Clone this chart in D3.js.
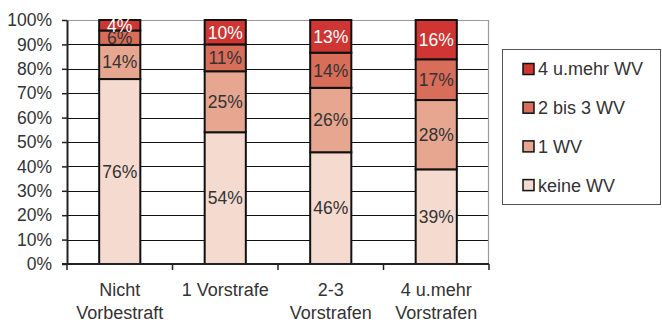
<!DOCTYPE html>
<html>
<head>
<meta charset="utf-8">
<script src="https://cdn.jsdelivr.net/npm/d3@7"></script>
<style>
  html, body { margin: 0; padding: 0; background: #fff; }
  svg { display: block; font-family: "Liberation Sans", Arial, sans-serif; }
</style>
</head>
<body>
<svg id="chart" width="662" height="322"></svg>
<script>
// Categories (prior convictions) and stacked shares of re-offence counts
const categories = [["Nicht", "Vorbestraft"], ["1 Vorstrafe"], ["2-3", "Vorstrafen"], ["4 u.mehr", "Vorstrafen"]];
const seriesNames = ["keine WV", "1 WV", "2 bis 3 WV", "4 u.mehr WV"];
const keineWV   = [75.8, 54.0, 45.8, 38.8];
const einWV     = [14.0, 25.0, 26.4, 28.4];
const zweiBis3  = [5.9, 11.0, 14.4, 16.7];
const vierUMehr = [4.3, 10.0, 13.4, 16.1];
const yTicks = [0, 10, 20, 30, 40, 50, 60, 70, 80, 90, 100];
const colors = ["#f5dacf", "#e7a68f", "#d86e5a", "#cf3532"];
const labelColors = ["#333", "#333", "#333", "#fff"];

const seriesValues = [keineWV, einWV, zweiBis3, vierUMehr];
const rows = categories.map((c, i) => {
  const r = { idx: i };
  seriesNames.forEach((s, k) => r[s] = seriesValues[k][i]);
  return r;
});

const svg = d3.select("#chart");
const margin = { left: 67, top: 20, right: 173, bottom: 58 };
const W = 662, H = 322;
const x = d3.scaleBand().domain(d3.range(categories.length))
  .range([margin.left, W - margin.right]).paddingInner(0.61).paddingOuter(0.305);
const xOuter = d3.scaleBand().domain(d3.range(categories.length))
  .range([margin.left, W - margin.right]);
const y = d3.scaleLinear().domain([0, 100]).range([H - margin.bottom, margin.top]);

// Gridlines
svg.append("g").selectAll("line").data(yTicks.filter(t => t > 0 && t < 100)).join("line")
  .attr("x1", margin.left).attr("x2", W - margin.right)
  .attr("y1", d => Math.round(y(d)) + 0.5).attr("y2", d => Math.round(y(d)) + 0.5)
  .attr("stroke", "#111").attr("stroke-width", 1);
// Plot area top/right border
svg.append("path")
  .attr("d", `M${margin.left},${y(100) + 0.5}H${W - margin.right - 0.5}V${y(0)}`)
  .attr("fill", "none").attr("stroke", "#999").attr("stroke-width", 1.2);

// Stacked bars
const stack = d3.stack().keys(seriesNames)(rows);
const layers = svg.append("g").selectAll("g").data(stack).join("g")
  .attr("fill", (d, k) => colors[k]);
layers.selectAll("rect").data(d => d).join("rect")
  .attr("x", d => x(d.data.idx))
  .attr("width", x.bandwidth())
  .attr("y", d => y(d[1]))
  .attr("height", d => y(d[0]) - y(d[1]))
  .attr("stroke", "#111").attr("stroke-width", 2);

// Segment labels
const fmt = v => d3.format(".0f")(v) + "%";
layers.each(function (layer, k) {
  d3.select(this).selectAll("text").data(layer).join("text")
    .attr("x", d => x(d.data.idx) + x.bandwidth() / 2)
    .attr("y", d => (y(d[0]) + y(d[1])) / 2)
    .attr("dy", "0.36em")
    .attr("text-anchor", "middle")
    .attr("font-size", 17.5)
    .attr("fill", labelColors[k])
    .text(d => fmt(d[1] - d[0]));
});

// Y axis
const yAxis = svg.append("g").attr("transform", `translate(${margin.left},0)`)
  .call(d3.axisLeft(y).tickValues(yTicks).tickFormat(d => d + "%").tickSizeInner(5).tickSizeOuter(0));
yAxis.select(".domain").attr("stroke", "#222").attr("stroke-width", 2);
yAxis.selectAll(".tick line").attr("stroke", "#222").attr("stroke-width", 1.5);
yAxis.selectAll(".tick text").attr("font-size", 17.5).attr("fill", "#333").attr("x", -15)
  .attr("font-family", "Liberation Sans, Arial, sans-serif");

// X axis
const xAxisG = svg.append("g").attr("transform", `translate(0,${y(0)})`);
xAxisG.append("line").attr("x1", margin.left - 5).attr("x2", W - margin.right)
  .attr("stroke", "#222").attr("stroke-width", 2);
const bounds = d3.range(categories.length + 1).map(i =>
  i < categories.length ? xOuter(i) : xOuter(i - 1) + xOuter.bandwidth());
xAxisG.selectAll("line.tk").data(bounds).join("line").attr("class", "tk")
  .attr("x1", d => d).attr("x2", d => d).attr("y1", 0).attr("y2", 6)
  .attr("stroke", "#222").attr("stroke-width", 1.5);
const catText = xAxisG.selectAll("text.cat").data(categories).join("text").attr("class", "cat")
  .attr("text-anchor", "middle").attr("font-size", 18).attr("fill", "#333")
  .attr("x", (d, i) => xOuter(i) + xOuter.bandwidth() / 2);
catText.selectAll("tspan").data(d => d).join("tspan")
  .attr("x", function () { return d3.select(this.parentNode).attr("x"); })
  .attr("y", (d, j) => 32 + j * 23)
  .text(d => d);

// Legend
const legend = svg.append("g");
legend.append("rect").attr("x", 502.5).attr("y", 49.5).attr("width", 158).attr("height", 155)
  .attr("fill", "#fff").attr("stroke", "#555").attr("stroke-width", 1);
const order = [3, 2, 1, 0];
const items = legend.selectAll("g.item").data(order).join("g").attr("class", "item")
  .attr("transform", (k, i) => `translate(523,${69 + i * 38.7})`);
items.append("rect").attr("x", 0).attr("y", -5.5).attr("width", 11).attr("height", 11)
  .attr("fill", k => colors[k]).attr("stroke", "#111").attr("stroke-width", 1.5);
items.append("text").attr("x", 15).attr("dy", "0.36em").attr("font-size", 18).attr("fill", "#333")
  .text(k => seriesNames[k]);
</script>
</body>
</html>
